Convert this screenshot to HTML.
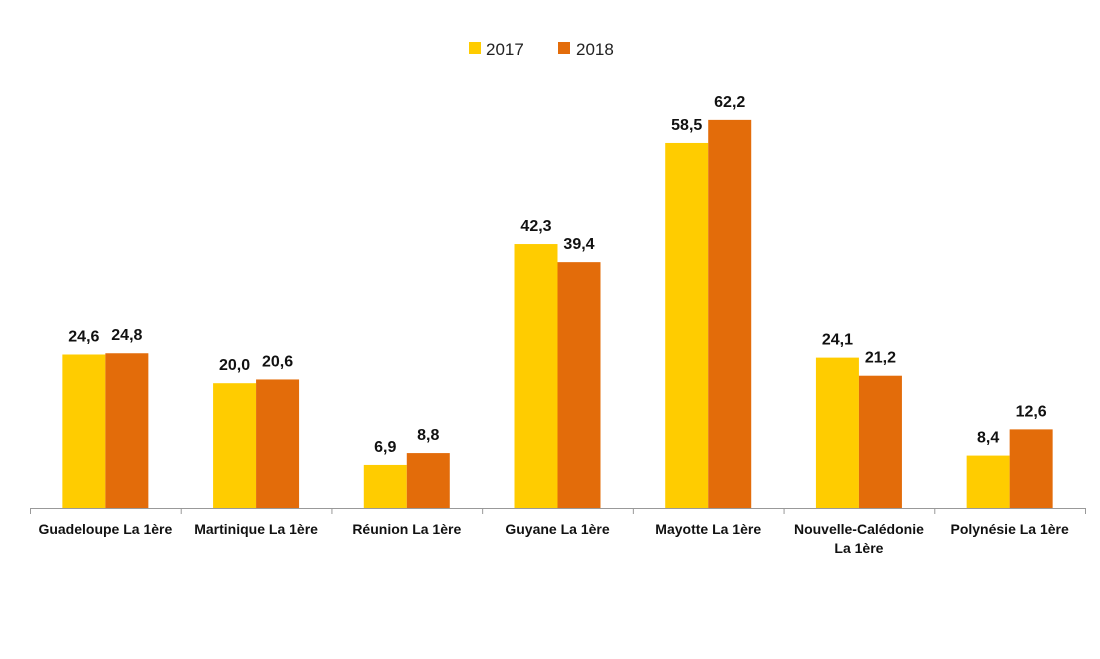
<!DOCTYPE html>
<html><head><meta charset="utf-8">
<style>
body{margin:0;background:#fff;}
svg{display:block;font-family:"Liberation Sans",sans-serif;}
</style></head>
<body>
<svg id="chart" width="1100" height="659" viewBox="0 0 1100 659">
  <g>
    <rect x="469" y="42" width="12" height="12" fill="#FFCC00"/>
    <text x="486" y="55" font-size="17" fill="#222">2017</text>
    <rect x="558" y="42" width="12" height="12" fill="#E36C0A"/>
    <text x="576" y="55" font-size="17" fill="#222">2018</text>
  </g>
  <g id="bars"></g>
  <g id="axis"></g>
</svg>
<script>
const categories = [["Guadeloupe La 1ère"],["Martinique La 1ère"],["Réunion La 1ère"],["Guyane La 1ère"],["Mayotte La 1ère"],["Nouvelle-Calédonie","La 1ère"],["Polynésie La 1ère"]];
const values2017 = [24.6,20.0,6.9,42.3,58.5,24.1,8.4];
const values2018 = [24.8,20.6,8.8,39.4,62.2,21.2,12.6];

const NS="http://www.w3.org/2000/svg";
const x0=30,x1=1085,base=508,pxPerUnit=6.24,barW=43;
const bw=(x1-x0)/categories.length;
function xCat(i){return x0+i*bw;}
function yVal(v){return base-v*pxPerUnit;}
function mk(tag,attrs,parent){const e=document.createElementNS(NS,tag);for(const k in attrs)e.setAttribute(k,attrs[k]);parent.appendChild(e);return e;}
const bars=document.getElementById('bars'),axis=document.getElementById('axis');
const series=[[values2017,"#FFCC00","2017"],[values2018,"#E36C0A","2018"]];
categories.forEach((c,i)=>{
  series.forEach((s,j)=>{
    const v=s[0][i];
    const bx=xCat(i)+(bw-2*barW)/2+j*barW;
    const r=mk('rect',{x:bx,y:yVal(v),width:barW,height:v*pxPerUnit,fill:s[1]},bars);
    
    
    const t=mk('text',{x:bx+barW/2,y:yVal(v)-13,'text-anchor':'middle','font-size':'16','font-weight':'bold',fill:'#111'},bars);
    t.textContent=v.toFixed(1).replace('.',',');
    
    
  });
  const t=mk('text',{x:xCat(i)+bw/2,y:534,'text-anchor':'middle','font-size':'14','font-weight':'bold',fill:'#111'},axis);
  
  
  c.forEach((line,k)=>{const ts=mk('tspan',{x:xCat(i)+bw/2,dy:k?19:0},t);ts.textContent=line;});
});
const l=mk('line',{x1:x0,x2:x1,y1:base+0.5,y2:base+0.5,stroke:'#999','stroke-width':1},axis);


for(let i=0;i<=categories.length;i++){
  const tk=mk('line',{x1:xCat(i)+0.5,x2:xCat(i)+0.5,y1:base,y2:base+6,stroke:'#999'},axis);
  
  
}
</script>
</body></html>
